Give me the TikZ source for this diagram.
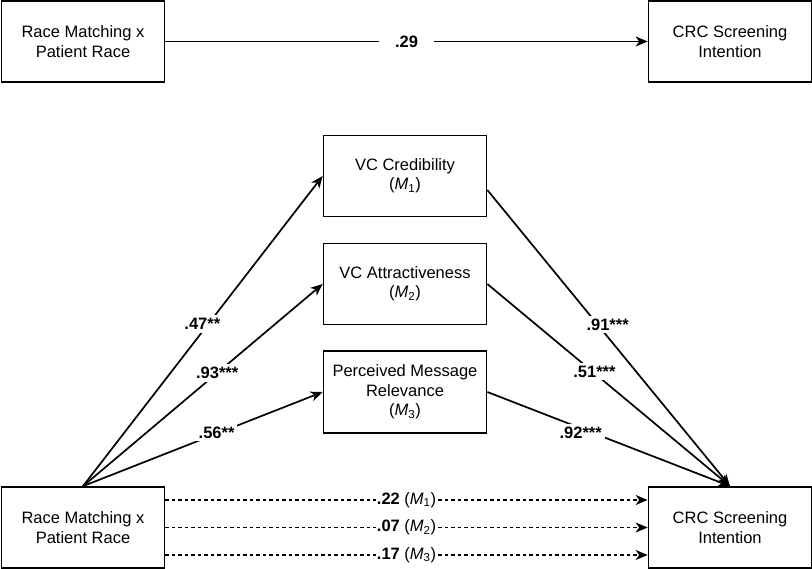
\documentclass[tikz,border=0pt]{standalone}
\usepackage{fontspec}
\setmainfont{Liberation Sans}
\usetikzlibrary{arrows.meta}
\begin{document}
\begin{tikzpicture}[x=1pt,y=-1pt,
  box/.style={draw, line width=1.7pt, minimum width=163pt, minimum height=81pt, align=center, inner sep=0pt, font=\fontsize{16.5}{19.3}\selectfont},
  conn/.style={line width=1.7pt, -{Stealth[length=12pt,width=10pt,inset=3.5pt]}},
  lab/.style={fill=white, font=\fontsize{16.5}{19}\selectfont\bfseries, inner sep=3pt},
  dlab/.style={fill=white, font=\fontsize{16.5}{19}\selectfont, inner sep=0.5pt},
  dconn/.style={conn, dash pattern=on 3.5pt off 3pt}]
\useasboundingbox (0,0) rectangle (812,569);

\node[box] (TL) at (83,41.5) {Race Matching x\\Patient Race};
\node[box] (TR) at (730,41.5) {CRC Screening\\Intention};
\node[box] (BL) at (83,527.5) {Race Matching x\\Patient Race};
\node[box] (BR) at (730,527.5) {CRC Screening\\Intention};
\node[box] (M1) at (405,176) {VC Credibility\\(\textit{M}\textsubscript{1})};
\node[box] (M2) at (405,284) {VC Attractiveness\\(\textit{M}\textsubscript{2})};
\node[box, minimum height=82pt] (M3) at (405,392) {Perceived Message\\Relevance\\(\textit{M}\textsubscript{3})};

\draw[conn] (TL) -- node[lab, inner xsep=16pt]{.29} (TR);

\draw[conn] (BL.north) -- node[lab, pos=0.523, xshift=-6pt]{.47**} (M1.west);
\draw[conn] (BL.north) -- node[lab, pos=0.56]{.93***} (M2.west);
\draw[conn] (BL.north) -- node[lab, pos=0.57, xshift=-3pt]{.56**} (M3.west);

\draw[conn] ([yshift=-14pt]M1.east) -- node[lab, pos=0.4545, xshift=10pt]{.91***} (BR.north);
\draw[conn] (M2.east) -- node[lab, pos=0.433, xshift=2pt]{.51***} (BR.north);
\draw[conn] (M3.east) -- node[lab, pos=0.43, xshift=-11pt]{.92***} (BR.north);

\draw[dconn] ([yshift=27.5pt]BL.east) -- node[dlab]{\textbf{.22} (\textit{M}\textsubscript{1})} ([yshift=27.5pt]BR.west);
\draw[dconn] (BL.east) -- node[dlab]{\textbf{.07} (\textit{M}\textsubscript{2})} (BR.west);
\draw[dconn] ([yshift=-27.5pt]BL.east) -- node[dlab]{\textbf{.17} (\textit{M}\textsubscript{3})} ([yshift=-27.5pt]BR.west);
\end{tikzpicture}
\end{document}
